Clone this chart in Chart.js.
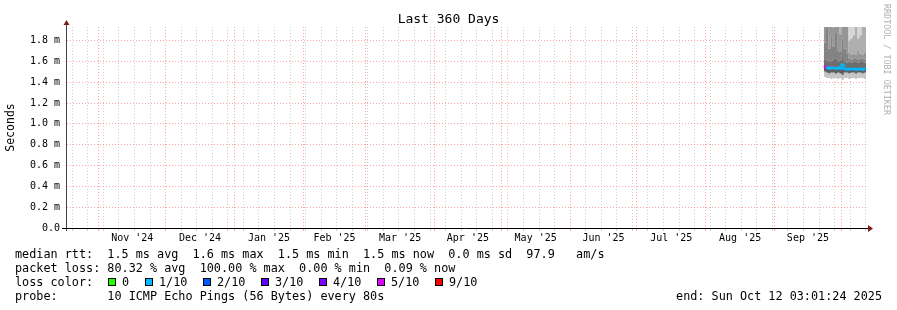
<!DOCTYPE html>
<html>
<head>
<meta charset="utf-8">
<script src="https://cdn.jsdelivr.net/npm/chart.js@4.4.1/dist/chart.umd.min.js"></script>
<style>
    body { margin: 0; background: #fff; }
    #wrap { position: relative; width: 897px; height: 310px; background: #fff; font-family: 'DejaVu Sans Mono', monospace; color: #000; overflow: hidden; }
    #chart { position: absolute; left: 0; top: 0; }
    .txt { position: absolute; white-space: pre; font-size: 11.8px; line-height: 14px; }
    #title { position: absolute; left: 0; width: 897px; top: 11px; text-align: center; font-size: 13px; line-height: 16px; }
    #rrd { position: absolute; left: 882px; top: 4px; writing-mode: vertical-rl; font-size: 8.4px; color: #b0b0b0; white-space: pre; }
    .box { position: absolute; top: 278px; width: 8px; height: 8px; box-sizing: border-box; border: 1px solid #000; }
</style>
</head>
<body>
<div id="wrap">
    <canvas id="chart" width="897" height="310"></canvas>
    <div id="title">Last 360 Days</div>
    <div id="rrd">RRDTOOL / TOBI OETIKER</div>
    <div class="txt" style="left:15px;top:247px">median rtt:  1.5 ms avg  1.6 ms max  1.5 ms min  1.5 ms now  0.0 ms sd  97.9   am/s</div>
    <div class="txt" style="left:15px;top:261px">packet loss: 80.32 % avg  100.00 % max  0.00 % min  0.09 % now</div>
    <div class="txt" style="left:15px;top:275px">loss color:</div>
    <div id="lossLegend"></div>
    <div class="txt" style="left:15px;top:289px">probe:       10 ICMP Echo Pings (56 Bytes) every 80s</div>
    <div class="txt" style="right:15px;top:289px">end: Sun Oct 12 03:01:24 2025</div>
</div>
<script>
// 360 days ending Sun Oct 12 03:01:24 2025, x axis is in days since start
const START = Date.UTC(2024, 9, 17, 3, 1, 24);
const DAY = 86400000;
const dayOf = s => (Date.parse(s + 'T00:00:00Z') - START) / DAY;

const monthStarts = ['2024-11-01', '2024-12-01', '2025-01-01', '2025-02-01', '2025-03-01', '2025-04-01',
    '2025-05-01', '2025-06-01', '2025-07-01', '2025-08-01', '2025-09-01', '2025-10-01'];
const monthLabels = ["Nov '24", "Dec '24", "Jan '25", "Feb '25", "Mar '25", "Apr '25",
    "May '25", "Jun '25", "Jul '25", "Aug '25", "Sep '25"];
const firstSunday = '2024-10-20';

const yTicks = [0, 0.1, 0.2, 0.3, 0.4, 0.5, 0.6, 0.7, 0.8, 0.9, 1.0, 1.1, 1.2, 1.3, 1.4, 1.5, 1.6, 1.7, 1.8, 1.9];

// loss colours (smokeping defaults)
const lossNames = ['0', '1/10', '2/10', '3/10', '4/10', '5/10', '9/10'];
const lossColors = ['#26ff00', '#00b8ff', '#0059ff', '#5e00ff', '#7e00ff', '#dd00ff', '#ff0000'];

// smoke data, one value per day (ms), only the last days have answers
const smokeDays = [341, 342, 343, 344, 345, 346, 347, 348, 349, 350, 351, 352, 353, 354, 355, 356, 357, 358, 359, 360];
const pingMin  = [1.45, 1.44, 1.44, 1.43, 1.44, 1.44, 1.43, 1.44, 1.42, 1.44, 1.44, 1.43, 1.44, 1.44, 1.43, 1.44, 1.44, 1.44, 1.43, 1.43];
const pingLow  = [1.50, 1.49, 1.48, 1.49, 1.49, 1.48, 1.49, 1.48, 1.47, 1.49, 1.49, 1.48, 1.49, 1.49, 1.48, 1.49, 1.49, 1.48, 1.49, 1.49];
const median   = [1.55, 1.54, 1.53, 1.54, 1.535, 1.53, 1.54, 1.53, 1.57, 1.53, 1.52, 1.53, 1.525, 1.53, 1.52, 1.525, 1.53, 1.52, 1.53, 1.53];
const pingUp1  = [1.62, 1.60, 1.61, 1.60, 1.62, 1.63, 1.60, 1.61, 1.66, 1.60, 1.59, 1.60, 1.59, 1.60, 1.60, 1.59, 1.60, 1.60, 1.59, 1.59];
const pingUp2  = [1.78, 1.92, 1.72, 1.84, 1.74, 1.88, 1.70, 1.69, 1.82, 1.72, 1.67, 1.63, 1.62, 1.63, 1.63, 1.62, 1.63, 1.63, 1.62, 1.62];
const pingUp3  = [2.0, 2.0, 2.0, 2.0, 1.92, 2.0, 2.0, 1.86, 2.0, 1.93, 2.0, 1.68, 1.66, 1.67, 1.66, 1.70, 1.67, 1.66, 1.68, 1.68];
const pingUp4  = [2.0, 2.0, 2.0, 2.0, 2.0, 2.0, 2.0, 2.0, 2.0, 2.0, 2.0, 1.80, 1.82, 1.85, 2.0, 1.82, 1.85, 2.0, 2.0, 2.0];
const pingMax  = [2.0, 2.0, 2.0, 2.0, 2.0, 2.0, 2.0, 2.0, 2.0, 2.0, 2.0, 2.0, 2.0, 2.0, 2.0, 2.0, 2.0, 2.0, 2.0, 2.0];
const lossRank = [5, 1, 1, 1, 1, 1, 1, 1, 1, 1, 1, 1, 1, 1, 1, 1, 1, 1, 1, 1];

// loss colour legend boxes
const legendBoxX = [108, 145, 203, 261, 319, 377, 435];
const lossLegend = document.getElementById('lossLegend');
lossNames.forEach((name, i) => {
    const b = document.createElement('div');
    b.className = 'box';
    b.style.left = legendBoxX[i] + 'px';
    b.style.background = lossColors[i];
    lossLegend.appendChild(b);
    const t = document.createElement('div');
    t.className = 'txt';
    t.style.left = (legendBoxX[i] + 14) + 'px';
    t.style.top = '275px';
    t.textContent = name;
    lossLegend.appendChild(t);
});

// x grid: weekly minor lines, monthly major lines, labels mid month
const MAJOR = 'rgba(255, 90, 90, 0.55)';
const MINOR = 'rgba(150, 150, 150, 0.45)';
const NONE = 'rgba(0, 0, 0, 0)';
const xKind = new Map();
const xLabel = new Map();
for (let d = dayOf(firstSunday); d < 360; d += 7) xKind.set(d, MINOR);
monthStarts.forEach(s => xKind.set(dayOf(s), MAJOR));
monthLabels.forEach((lab, i) => {
    const mid = (dayOf(monthStarts[i]) + dayOf(monthStarts[i + 1])) / 2;
    xKind.set(mid, NONE);
    xLabel.set(mid, lab);
});
const xTickValues = [...xKind.keys()].sort((a, b) => a - b);

function band(values, fillTo, color) {
    return {
        data: values.map((v, i) => ({ x: smokeDays[i], y: v })),
        fill: fillTo,
        backgroundColor: color,
        borderColor: NONE,
        borderWidth: 0,
        pointRadius: 0,
        stepped: true
    };
}

// axis lines with arrow heads like rrdtool
const rrdAxes = {
    id: 'rrdAxes',
    afterDraw(chart) {
        const { ctx, chartArea: a } = chart;
        ctx.save();
        ctx.lineWidth = 1;
        ctx.strokeStyle = '#444';
        ctx.beginPath();
        ctx.moveTo(a.left - 0.5, a.bottom + 3);
        ctx.lineTo(a.left - 0.5, a.top - 2);
        ctx.stroke();
        ctx.strokeStyle = '#000';
        ctx.beginPath();
        ctx.moveTo(a.left - 5, a.bottom + 0.5);
        ctx.lineTo(a.right + 3, a.bottom + 0.5);
        ctx.stroke();
        ctx.fillStyle = '#7a1c1c';
        ctx.beginPath();
        ctx.moveTo(a.left - 3.5, a.top - 2);
        ctx.lineTo(a.left + 2.5, a.top - 2);
        ctx.lineTo(a.left - 0.5, a.top - 7);
        ctx.closePath();
        ctx.fill();
        ctx.beginPath();
        ctx.moveTo(a.right + 2, a.bottom - 3);
        ctx.lineTo(a.right + 2, a.bottom + 4);
        ctx.lineTo(a.right + 7, a.bottom + 0.5);
        ctx.closePath();
        ctx.fill();
        ctx.restore();
    }
};

Chart.defaults.font.family = "'DejaVu Sans Mono', monospace";
Chart.defaults.color = '#000';

new Chart(document.getElementById('chart').getContext('2d'), {
    type: 'line',
    data: {
        datasets: [
            band(pingMin, false, NONE),
            band(pingLow, 0, '#c6c6c6'),
            band(median, 1, '#5e5e5e'),
            band(pingUp1, 2, '#6e6e6e'),
            band(pingUp2, 3, '#838383'),
            band(pingUp3, 4, '#969696'),
            band(pingUp4, 5, '#afafaf'),
            band(pingMax, 6, '#d6d6d6'),
            {
                data: median.map((v, i) => ({ x: smokeDays[i], y: v })),
                fill: false,
                borderWidth: 2,
                pointRadius: 0,
                stepped: true,
                order: -1,
                borderColor: lossColors[1],
                segment: { borderColor: c => lossColors[lossRank[c.p0DataIndex]] }
            }
        ]
    },
    options: {
        responsive: false,
        animation: false,
        events: [],
        layout: { padding: { left: 0, top: 27, right: 31, bottom: 62 } },
        plugins: { legend: { display: false }, tooltip: { enabled: false } },
        scales: {
            x: {
                type: 'linear',
                min: 0.5,
                max: 360,
                afterFit: s => { s.height = 20; },
                afterBuildTicks: s => { s.ticks = xTickValues.map(v => ({ value: v })); },
                ticks: {
                    autoSkip: false,
                    maxRotation: 0,
                    padding: 1,
                    font: { size: 10 },
                    callback: v => xLabel.get(v) || ''
                },
                grid: {
                    color: c => xKind.get(c.tick.value) || NONE,
                    lineWidth: 1,
                    tickLength: 3,
                    tickBorderDash: []
                },
                border: { display: false, dash: [1, 2] }
            },
            y: {
                min: 0,
                max: 1.93,
                afterFit: s => { s.width = 67; },
                afterBuildTicks: s => { s.ticks = yTicks.map(v => ({ value: v })); },
                ticks: {
                    padding: 7,
                    font: { size: 10 },
                    callback: v => {
                        const k = Math.round(v * 10);
                        if (k % 2) return '';
                        return k === 0 ? '0.0' : (k / 10).toFixed(1) + ' m';
                    }
                },
                grid: {
                    drawTicks: false,
                    color: c => (Math.round(c.tick.value * 10) % 2 ? MINOR : MAJOR)
                },
                border: { display: false, dash: [1, 2] },
                title: {
                    display: true,
                    text: 'Seconds',
                    font: { size: 11.5 },
                    padding: { top: 4, bottom: 0 }
                }
            }
        }
    },
    plugins: [rrdAxes]
});
</script>
</body>
</html>
